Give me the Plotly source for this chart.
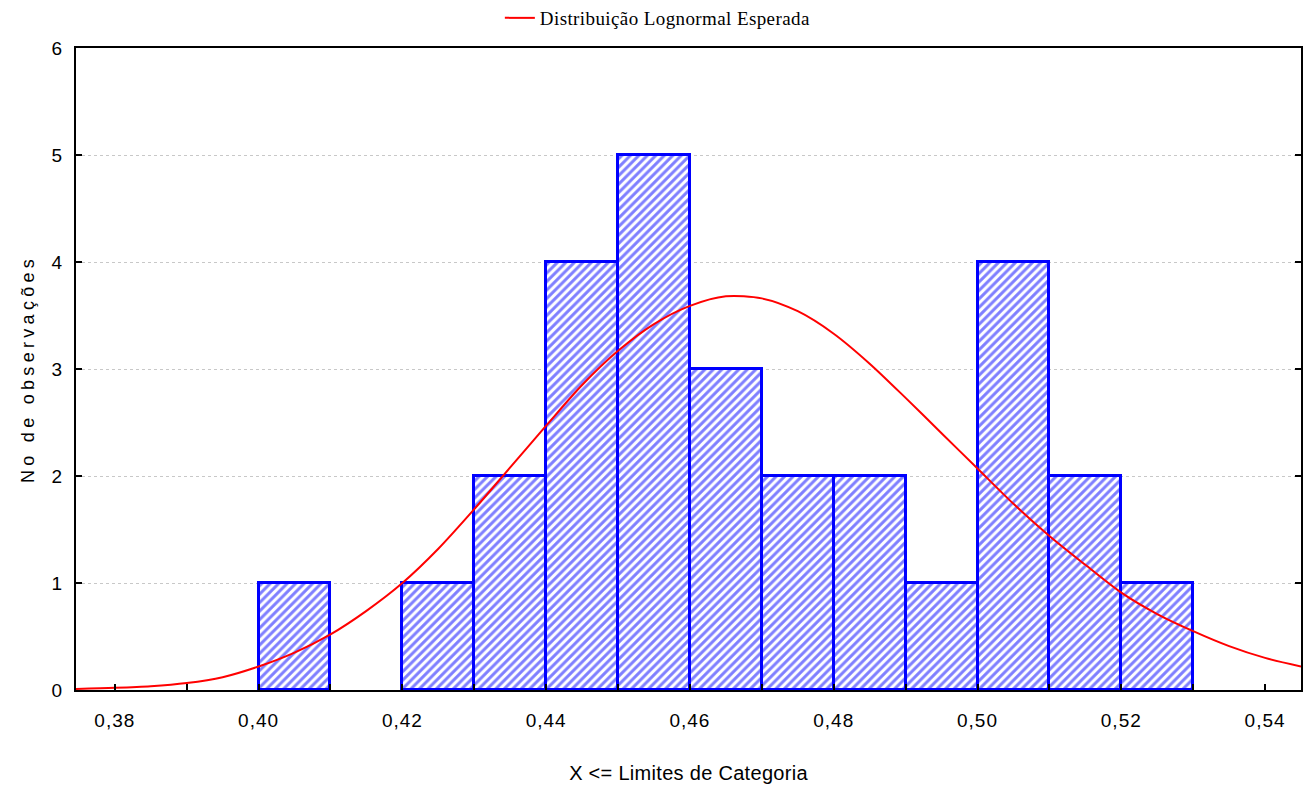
import plotly.graph_objects as go

# Histogram bins (left edges) and counts
bin_left = [0.40, 0.41, 0.42, 0.43, 0.44, 0.45, 0.46, 0.47, 0.48, 0.49, 0.50, 0.51, 0.52]
counts = [1, 0, 1, 2, 4, 5, 3, 2, 2, 1, 4, 2, 1]
bin_width = 0.01

# Expected lognormal curve
curve_x = [0.3746, 0.380, 0.385, 0.390, 0.395, 0.400, 0.405, 0.410, 0.415, 0.420,
           0.425, 0.430, 0.435, 0.440, 0.445, 0.450, 0.455, 0.460, 0.465, 0.470,
           0.475, 0.480, 0.485, 0.490, 0.495, 0.500, 0.505, 0.510, 0.515, 0.520,
           0.525, 0.530, 0.535, 0.540, 0.545]
curve_y = [0.01, 0.02, 0.035, 0.065, 0.12, 0.22, 0.35, 0.52, 0.74, 1.00,
           1.32, 1.69, 2.08, 2.47, 2.85, 3.17, 3.42, 3.59, 3.68, 3.66,
           3.54, 3.33, 3.05, 2.73, 2.40, 2.07, 1.74, 1.44, 1.17, 0.91,
           0.71, 0.55, 0.41, 0.30, 0.22]

x_tickvals = [0.38, 0.40, 0.42, 0.44, 0.46, 0.48, 0.50, 0.52, 0.54]
x_ticktext = ["0,38", "0,40", "0,42", "0,44", "0,46", "0,48", "0,50", "0,52", "0,54"]
y_tickvals = [0, 1, 2, 3, 4, 5, 6]
y_ticktext = ["0", "1", "2", "3", "4", "5", "6"]

bar_x = [b + bin_width / 2 for b in bin_left]
bar_y = [c if c > 0 else None for c in counts]

SANS = "Arial, Liberation Sans, sans-serif"
SERIF = "Times New Roman, Liberation Serif, serif"


def spaced(t, px):
    return f'<span style="letter-spacing:{px}px">{t}</span>'


fig = go.Figure()
fig.add_trace(go.Bar(
    x=bar_x, y=bar_y, width=[bin_width] * len(bar_x),
    marker=dict(
        color="white",
        line=dict(color="#0000FF", width=3),
        pattern=dict(shape="/", fgcolor="#0000ff", bgcolor="white", size=6, solidity=0.5),
    ),
    showlegend=False,
))
fig.add_trace(go.Scatter(
    x=curve_x, y=curve_y, mode="lines",
    line=dict(color="#FF0000", width=2, shape="spline", smoothing=0.8),
    name=spaced("Distribuição Lognormal Esperada", 0.4),
))

fig.update_layout(
    width=1310, height=789,
    margin=dict(l=76, r=9, t=48, b=99, autoexpand=False),
    paper_bgcolor="white", plot_bgcolor="white",
    bargap=0,
    legend=dict(
        orientation="h", x=0.346, xanchor="left", y=1.0467, yanchor="middle",
        font=dict(family=SERIF, size=19, color="black"),
        bgcolor="rgba(0,0,0,0)",
    ),
    showlegend=True,
)
fig.update_xaxes(
    range=[0.3746, 0.545], tickvals=x_tickvals, ticktext=[spaced(t, 1) for t in x_ticktext],
    ticks="inside", ticklen=6, tickwidth=2, tickcolor="black",
    minor=dict(dtick=0.01, tick0=0.38, ticks="inside", ticklen=6, tickwidth=2, tickcolor="black"),
    showline=True, linecolor="black", linewidth=2, mirror=True,
    showgrid=False, zeroline=False,
    ticklabelstandoff=12,
    tickfont=dict(family=SANS, size=19, color="black"),
    title=dict(text=spaced("X <= Limites de Categoria", 0.3),
               font=dict(family=SANS, size=20, color="black"), standoff=36),
)
fig.update_yaxes(
    range=[0, 6], tickvals=y_tickvals, ticktext=y_ticktext,
    ticks="inside", ticklen=6, tickwidth=2, tickcolor="black",
    showline=True, linecolor="black", linewidth=2, mirror="ticks",
    showgrid=True, gridcolor="#c8c8c8", griddash="dot", gridwidth=1,
    zeroline=False,
    ticklabelstandoff=8,
    tickfont=dict(family=SANS, size=19, color="black"),
    title=dict(text=spaced("No de observações", 4.3),
               font=dict(family=SANS, size=18, color="black"), standoff=12),
)

fig.write_html("out.html")
